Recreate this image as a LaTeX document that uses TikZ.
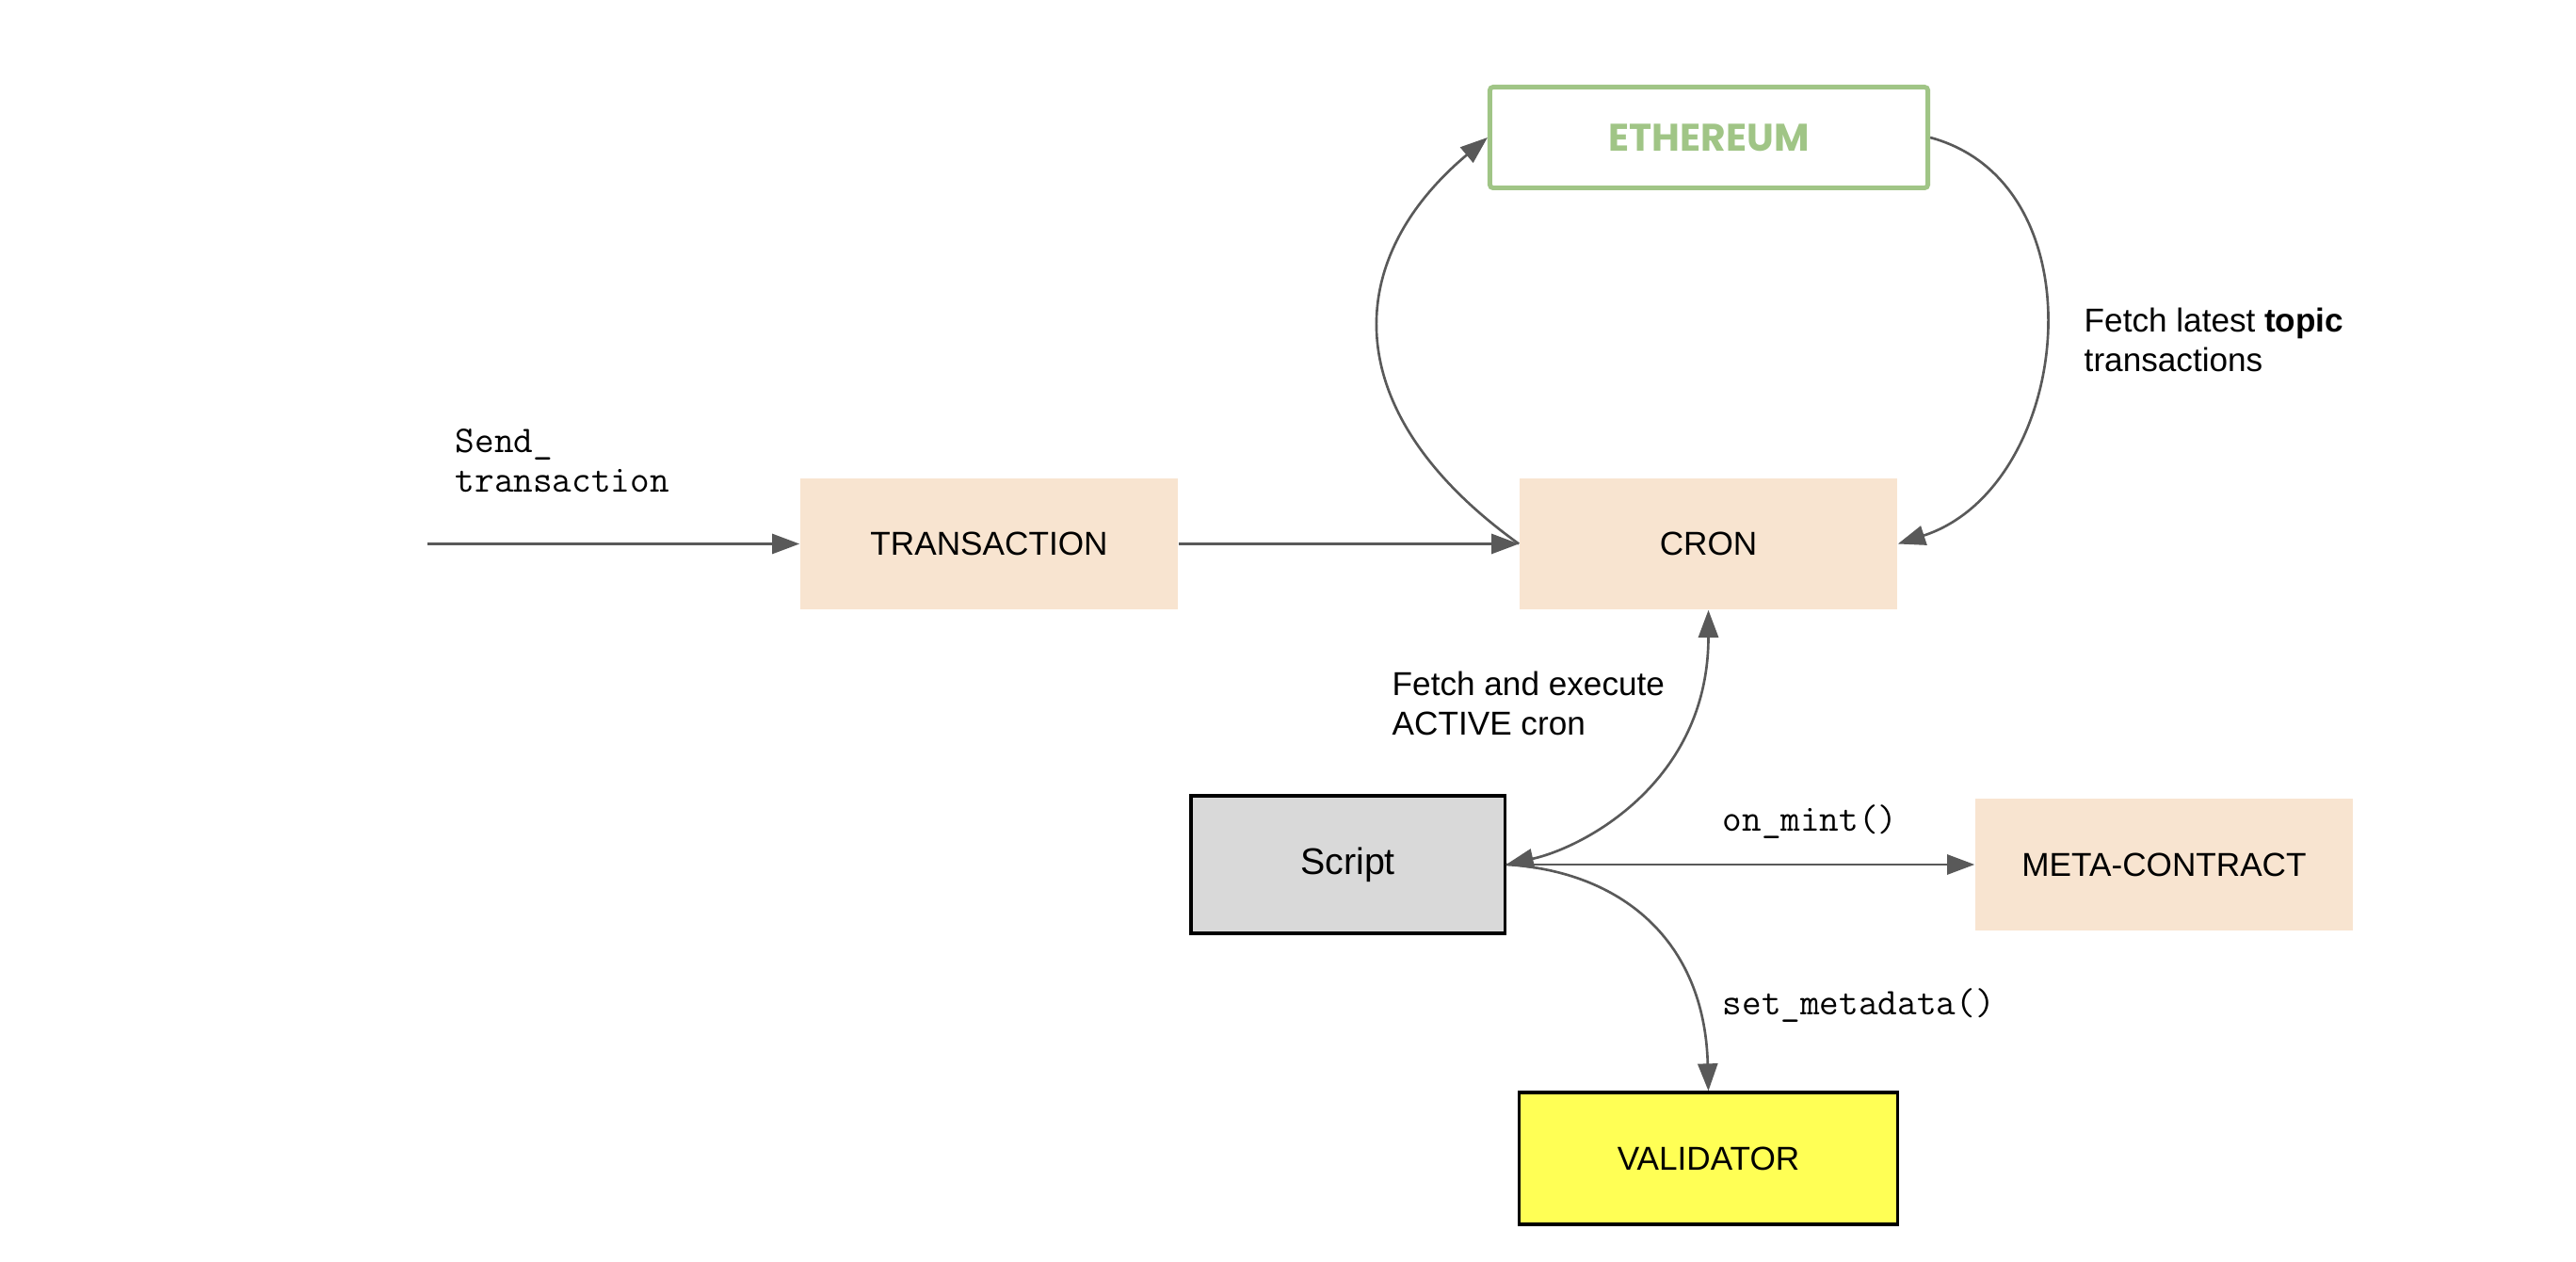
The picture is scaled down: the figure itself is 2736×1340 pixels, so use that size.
\documentclass[tikz,border=0pt]{standalone}
\usepackage{fontspec}
\setmainfont{Liberation Sans}
\newfontfamily\ethfont{Poppins}
\usetikzlibrary{arrows.meta}
\definecolor{peach}{HTML}{F8E4D0}
\definecolor{scriptgray}{HTML}{D9D9D9}
\definecolor{valyellow}{HTML}{FFFF55}
\definecolor{ethgreen}{HTML}{A0C586}
\definecolor{linegray}{HTML}{595959}
\tikzset{
  boxbase/.style={inner sep=0pt, font=\fontsize{10}{12}\selectfont, text=black},
  peachbox/.style={boxbase, fill=peach, minimum width=4.01cm, minimum height=1.39cm},
  scriptbox/.style={boxbase, fill=scriptgray, draw=black, line width=0.9pt, minimum width=3.33cm, minimum height=1.46cm, font=\fontsize{11.2}{13}\selectfont},
  valbox/.style={boxbase, fill=valyellow, draw=black, line width=0.9pt, minimum width=4.01cm, minimum height=1.40cm},
  ethbox/.style={inner sep=0pt, fill=white, draw=ethgreen, line width=1.4pt, rounded corners=1pt, minimum width=4.65cm, minimum height=1.07cm, text=ethgreen, font=\ethfont\bfseries\fontsize{11.6}{13}\selectfont},
  lab/.style={inner sep=0pt, align=left, anchor=west, font=\fontsize{10}{12}\selectfont},
  monolab/.style={lab, font=\ttfamily\fontsize{11.4}{12}\selectfont},
  tip/.tip={Triangle[length=0.29cm,width=0.21cm]},
  conn/.style={draw=linegray, line width=0.75pt, -tip},
  conn2/.style={draw=linegray, line width=0.75pt, tip-tip}
}
\begin{document}
\begin{tikzpicture}[x=0.01cm,y=-0.01cm]
\useasboundingbox[fill=white] (0,0) rectangle (2736,1340);

\node[peachbox] (tx) at (1050.5,577.5) {TRANSACTION};
\node[peachbox] (cron) at (1814.5,577.5) {CRON};
\node[ethbox] (eth) at (1815,146) {ETHEREUM};
\node[scriptbox] (script) at (1431.5,918) {Script};
\node[peachbox, minimum height=1.40cm] (meta) at (2298.5,918) {META-CONTRACT};
\node[valbox] (val) at (1814.5,1230) {VALIDATOR};

\coordinate (in) at (454,577.5);

\draw[conn] (in) -- (tx.west);
\draw[conn] (tx.east) -- (cron.west);
\draw[conn] (cron.west) .. controls +(-195,-140) and +(-155,130) .. (eth.west);
\draw[conn] (eth.east) .. controls +(185,50) and +(185,-60) .. (cron.east);
\draw[conn2] (cron.south) .. controls +(0,183) and +(82,-18) .. (script.east);
\draw[conn] (script.east) -- (meta.west);
\draw[conn] (script.east) .. controls +(122,7) and +(-4,-160) .. (val.north);

\node[monolab] (send) at (483,489) {Send\_\\transaction};
\node[lab] (fetchlatest) at (2213,361) {Fetch latest \textbf{topic}\\transactions};
\node[lab] (fetchexec) at (1478,747) {Fetch and execute\\ACTIVE cron};
\node[monolab] (onmint) at (1829,873) {on\_mint()};
\node[monolab] (setmeta) at (1829,1068) {set\_metadata()};
\end{tikzpicture}
\end{document}
